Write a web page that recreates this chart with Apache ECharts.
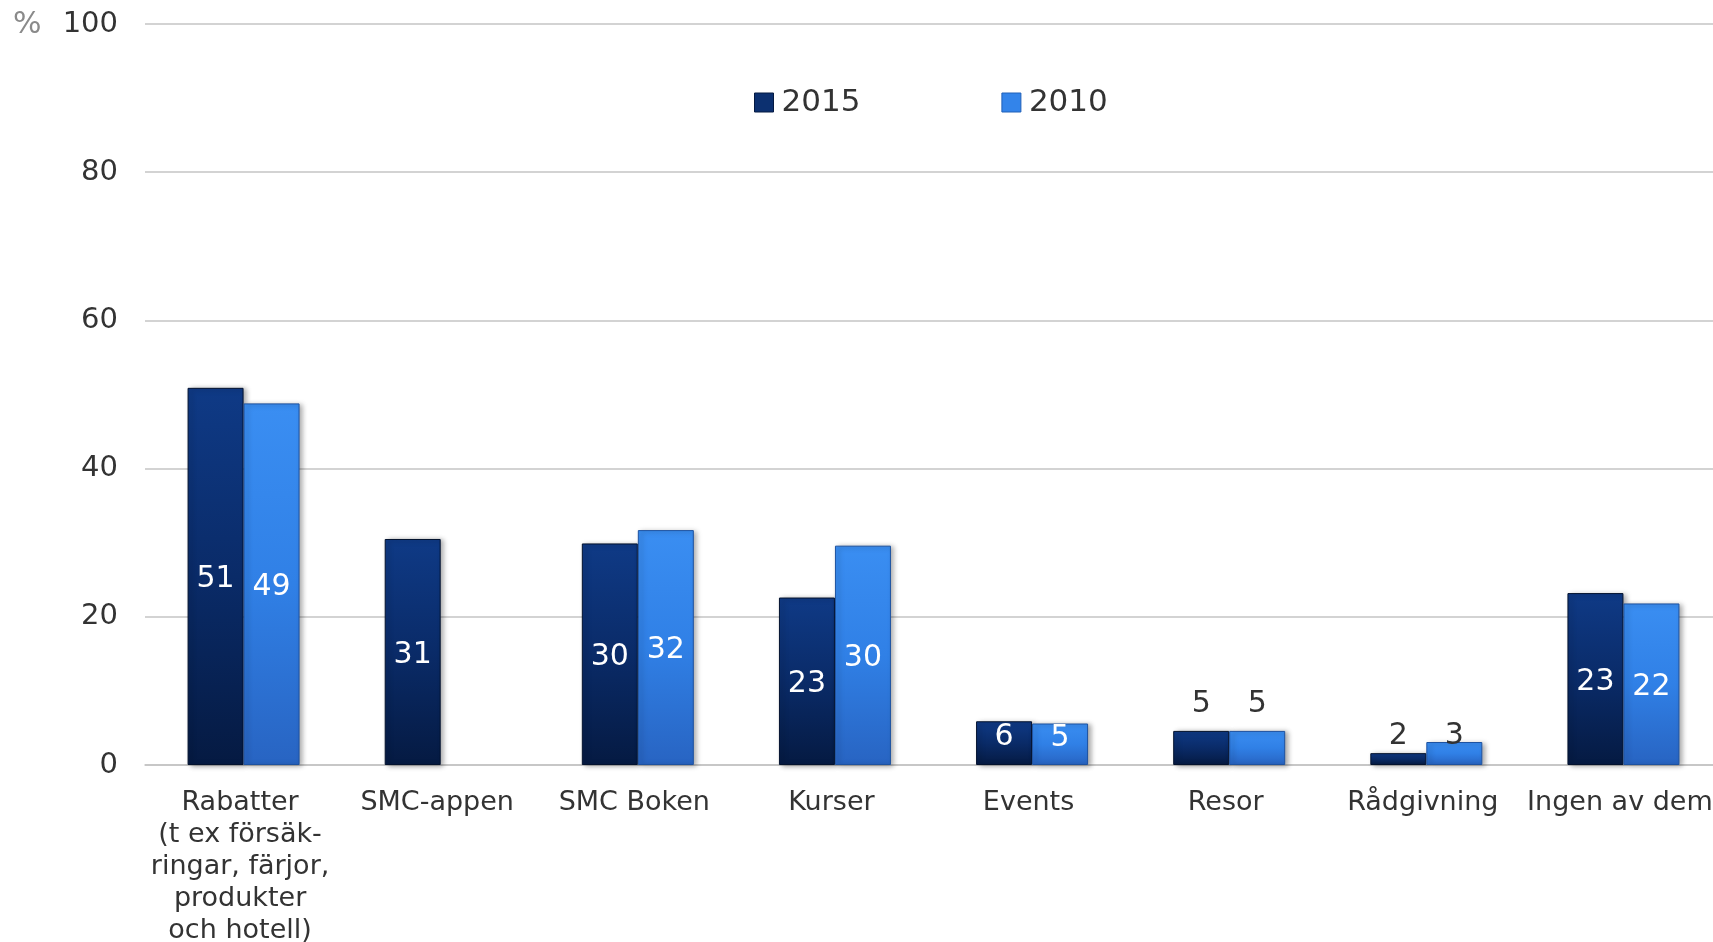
<!DOCTYPE html>
<html>
<head>
<meta charset="utf-8">
<style>
html,body{margin:0;padding:0;background:#fff;}
#chart{width:1713px;height:942px;}
</style>
<script src="https://cdn.jsdelivr.net/npm/echarts@6/dist/echarts.min.js"></script>
</head>
<body>
<div id="chart"></div>
<script>
const categories = ['Rabatter\n(t ex försäk-\nringar, färjor,\nprodukter\noch hotell)', 'SMC-appen', 'SMC Boken', 'Kurser', 'Events', 'Resor', 'Rådgivning', 'Ingen av dem'];
const values2015 = [50.9, 30.5, 29.9, 22.6, 5.9, 4.6, 1.6, 23.2];
const values2010 = [48.8, null, 31.7, 29.6, 5.6, 4.6, 3.1, 21.8];
const labels2015 = [51, 31, 30, 23, 6, 5, 2, 23];
const labels2010 = [49, null, 32, 30, 5, 5, 3, 22];
const yTicks = [0, 20, 40, 60, 80, 100];

const FONT = 'DejaVu Sans, Verdana, sans-serif';
// label placement overrides (style only)
const outsideDist2015 = {5: 12, 6: 2};
const outsideDist2010 = {5: 12, 6: -9};
const insideOffset = {4: [0, -6]};

function vgrad(top, mid, bottom) {
  return new echarts.graphic.LinearGradient(0, 0, 0, 1, [
    {offset: 0, color: top}, {offset: 0.5, color: mid}, {offset: 1, color: bottom}
  ]);
}
const c2015 = vgrad('#0f3a86', '#0a2b68', '#051a42');
const c2010 = vgrad('#3a8ef2', '#3080e6', '#2864c2');

function buildData(vals, labs, dist) {
  return vals.map((v, i) => {
    if (v === null) return '-';
    const item = {value: v, labelText: labs[i]};
    if (dist[i] !== undefined) {
      item.label = {position: 'top', distance: dist[i], offset: [0, 0], color: '#333333'};
    } else if (insideOffset[i]) {
      item.label = {offset: insideOffset[i]};
    }
    return item;
  });
}

const chart = echarts.init(document.getElementById('chart'), null, {renderer: 'canvas'});
chart.setOption({
  animation: false,
  backgroundColor: '#ffffff',
  title: {
    text: '%', left: 8, top: 5,
    textStyle: {fontFamily: FONT, fontSize: 30, fontWeight: 'normal', color: '#8a8a8a'}
  },
  legend: {
    top: 82, left: 749,
    itemWidth: 19, itemHeight: 19, itemGap: 141,
    icon: 'rect',
    textStyle: {fontFamily: FONT, fontSize: 31, lineHeight: 31, color: '#333333', padding: [0, 0, 0, 3]},
    data: [
      {name: '2015', itemStyle: {color: '#0c3070', borderColor: '#051a42', borderWidth: 1}},
      {name: '2010', itemStyle: {color: '#3384ea', borderColor: '#2060b8', borderWidth: 1}}
    ]
  },
  grid: {left: 145, top: 24, width: 1577, height: 741, containLabel: false, outerBoundsMode: 'none'},
  xAxis: {
    type: 'category',
    data: categories,
    axisTick: {show: false},
    axisLine: {lineStyle: {color: '#c4c4c4', width: 1.5}},
    axisLabel: {interval: 0, margin: 22, padding: [0, 7, 0, 0], fontFamily: FONT, fontSize: 27, lineHeight: 32, color: '#333333', hideOverlap: false}
  },
  yAxis: {
    type: 'value', min: yTicks[0], max: yTicks[yTicks.length - 1], interval: 20,
    axisLine: {show: false}, axisTick: {show: false},
    splitLine: {lineStyle: {color: '#c4c4c4', width: 1.5}},
    axisLabel: {margin: 27, fontFamily: FONT, fontSize: 29, color: '#333333'}
  },
  series: [
    {
      name: '2015', type: 'bar', barWidth: 56, barGap: '0%',
      data: buildData(values2015, labels2015, outsideDist2015),
      itemStyle: {color: c2015, borderColor: '#03122e', borderWidth: 1, shadowColor: 'rgba(0,0,0,0.35)', shadowBlur: 5, shadowOffsetX: 3, shadowOffsetY: 1},
      label: {show: true, position: 'inside', offset: [0, 3], fontFamily: FONT, fontSize: 30, color: '#ffffff',
        formatter: p => p.data.labelText}
    },
    {
      name: '2010', type: 'bar', barWidth: 56, barGap: '0%',
      data: buildData(values2010, labels2010, outsideDist2010),
      itemStyle: {color: c2010, borderColor: '#1d52a0', borderWidth: 1, shadowColor: 'rgba(0,0,0,0.35)', shadowBlur: 5, shadowOffsetX: 3, shadowOffsetY: 1},
      label: {show: true, position: 'inside', offset: [0, 3], fontFamily: FONT, fontSize: 30, color: '#ffffff',
        formatter: p => p.data.labelText}
    }
  ],
  color: ['#0c3070', '#3384ea']
});
</script>
</body>
</html>
